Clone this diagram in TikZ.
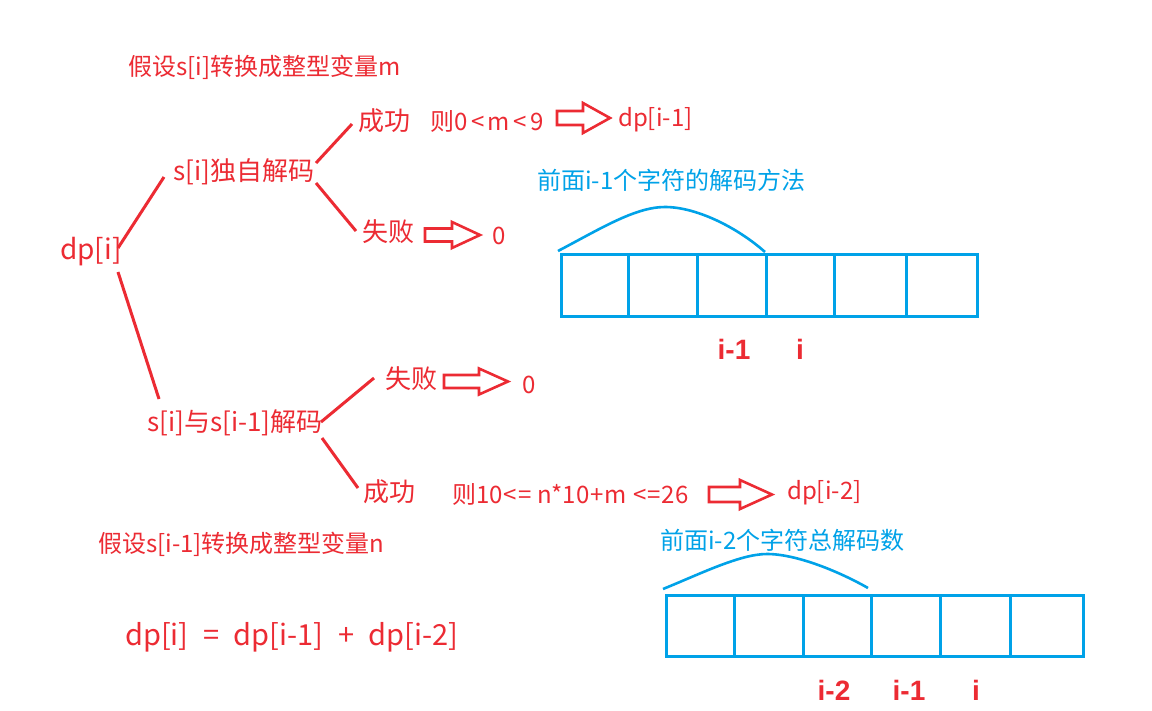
\documentclass[tikz,border=0pt]{standalone}
\usepackage{fontspec}
\setmainfont{Noto Sans CJK SC}
\newfontfamily\lbf{Liberation Sans}
\definecolor{rd}{HTML}{EC2B33}
\definecolor{bl}{HTML}{00A2E8}
\newcommand\harrow[6]{%
  \draw[ha] (#1,#2-#4) -- (#1+#3-#6,#2-#4) -- (#1+#3-#6,#2-#5) -- (#1+#3,#2)
    -- (#1+#3-#6,#2+#5) -- (#1+#3-#6,#2+#4) -- (#1,#2+#4) -- cycle;}
\newcommand\gp{\kern3.5pt}
\begin{document}
\begin{tikzpicture}[x=1pt,y=-1pt,
  t/.style={text=rd, inner sep=0pt, anchor=west},
  s24/.style={font=\fontsize{24}{28}\selectfont},
  s26/.style={font=\fontsize{26}{30}\selectfont},
  s28/.style={font=\fontsize{28}{32}\selectfont},
  s29/.style={font=\fontsize{29}{33}\selectfont},
  bt/.style={text=bl, inner sep=0pt, anchor=west, font=\fontsize{24}{28}\selectfont},
  lbl/.style={text=rd, inner sep=0pt, font=\lbf\bfseries\fontsize{28}{32}\selectfont},
  tl/.style={draw=rd, line width=3pt},
  ha/.style={draw=rd, line width=2.6pt, line join=miter},
  cell/.style={draw=bl, line width=3pt},
  arc/.style={draw=bl, line width=2.6pt}]
\useasboundingbox (0,0) rectangle (1152,710);
\fill[white] (0,0) rectangle (1152,710);

% texts
\node[t,s24] (title1) at (128,67) {假设s[i]转换成整型变量m};
\node[t,s28] (dp) at (60,252) {dp[i]};
\node[t,s26] (s1) at (173,172) {s[i]独自解码};
\node[t,s26] (ok1) at (358,121) {成功};
\node[t,s24] (cond1) at (430,121) {则0\gp<\gp m\gp<\gp 9};
\node[t,s24] (dp1) at (618,120) {dp[i-1]};
\node[t,s26] (fail1) at (362,232) {失败};
\node[t,s24] (z1) at (492,236) {0};
\node[t,s26] (s2) at (147,423) {s[i]与s[i-1]解码};
\node[t,s26] (fail2) at (385,379) {失败};
\node[t,s24] (z2) at (522,385) {0};
\node[t,s26] (ok2) at (363,492) {成功};
\node[t,s24] (cond2) at (452,494) {则10\kern1pt<\kern1pt=\kern1pt\ n*10\kern1pt+\kern1pt m \kern1pt<\kern1pt=\kern1pt26};
\node[t,s24] (dp2) at (787,493) {dp[i-2]};
\node[t,s24] (title2) at (98,544) {假设s[i-1]转换成整型变量n};
\node[t,s29] (formula) at (125,637) {dp[i]\hspace{8pt} = \hspace{8pt}dp[i-1]\hspace{8pt} + \hspace{8pt}dp[i-2]};

% tree lines
\draw[tl] ([shift={(58,-4)}]dp.west) -- ([shift={(-9,5)}]s1.west);
\draw[tl] ([shift={(58,20)}]dp.west) -- ([shift={(12,-24)}]s2.west);
\draw[tl] ([shift={(143,-9)}]s1.west) -- ([shift={(-6,3)}]ok1.west);
\draw[tl] ([shift={(143,11)}]s1.west) -- ([shift={(-6,-1)}]fail1.west);
\draw[tl] ([shift={(174,-1)}]s2.west) -- ([shift={(-11,-1)}]fail2.west);
\draw[tl] ([shift={(175,15)}]s2.west) -- ([shift={(-5,-4)}]ok2.west);

% hollow arrows
\harrow{557}{118}{53}{7}{15}{27}
\harrow{425}{235}{55}{6.5}{13}{28}
\harrow{444}{381.5}{64}{6.5}{13}{29}
\harrow{709}{494.5}{63}{7.5}{14.5}{32}

% upper array
\node[bt] (b1) at (537,180) {前面i-1个字符的解码方法};
\draw[arc] (558,251) .. controls (600,229) and (635,207) .. (665,207)
  .. controls (697,207) and (738,228) .. (765,252);
\draw[cell] (561,254) rectangle (977,316);
\foreach \x in {628,697,766,834,906} \draw[cell] (\x,254) -- (\x,316);
\node[lbl] (u1) at (734,349) {i-1};
\node[lbl] (u2) at (800,349) {i};

% lower array
\node[bt] (b2) at (660,540) {前面i-2个字符总解码数};
\draw[arc] (663,589) .. controls (700,574) and (740,554) .. (767,554)
  .. controls (797,554) and (840,572) .. (868,588);
\draw[cell] (666,595) rectangle (1083,656);
\foreach \x in {734,803,871,940,1010} \draw[cell] (\x,595) -- (\x,656);
\node[lbl] (v1) at (834,690) {i-2};
\node[lbl] (v2) at (909,690) {i-1};
\node[lbl] (v3) at (976,690) {i};
\end{tikzpicture}
\end{document}
